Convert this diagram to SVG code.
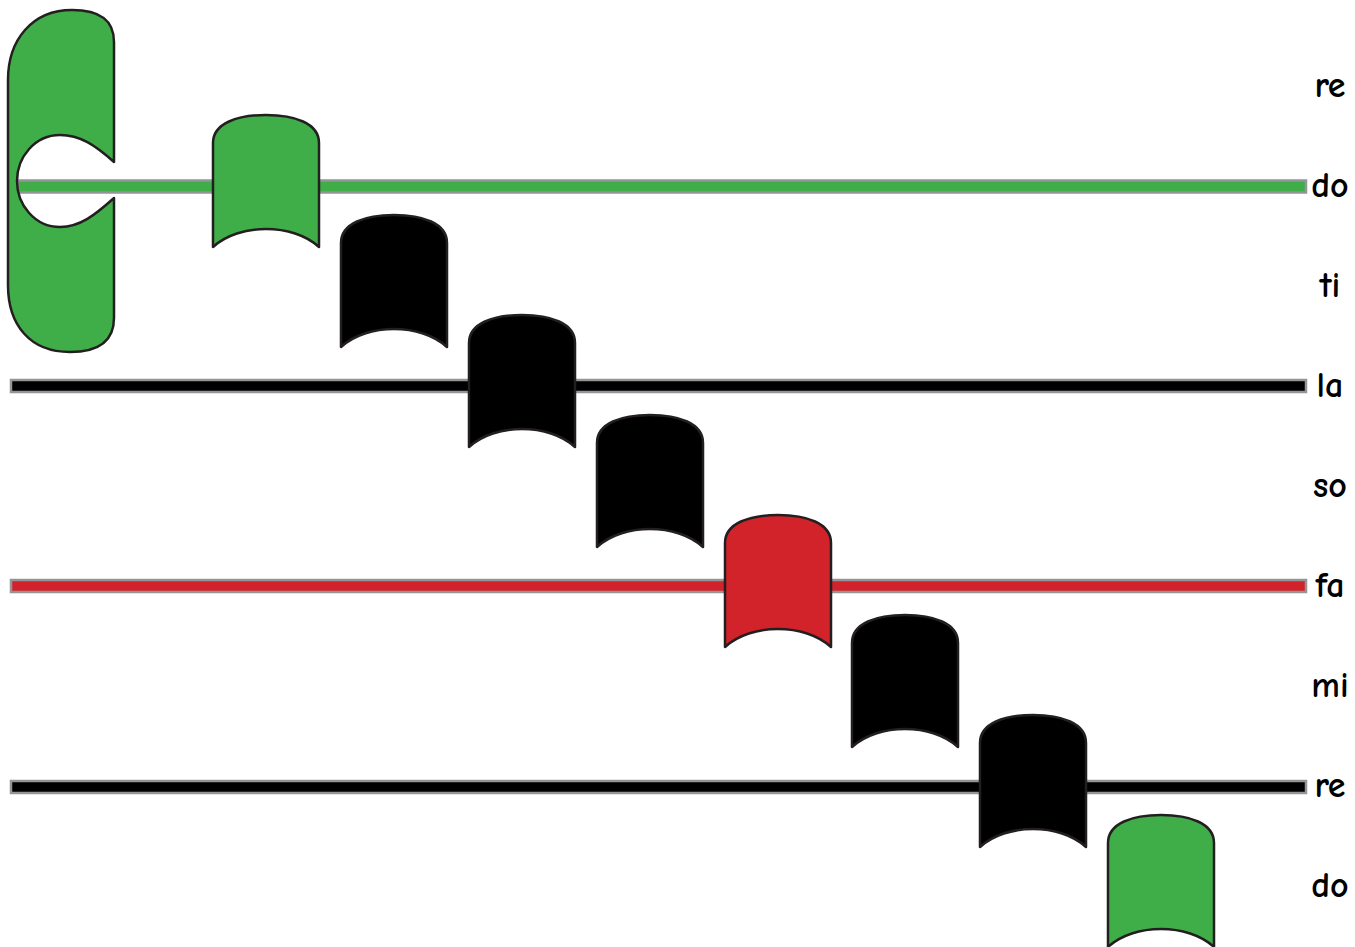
<svg xmlns="http://www.w3.org/2000/svg" xmlns:xlink="http://www.w3.org/1999/xlink" width="1355" height="947" viewBox="0 0 1355 947">
<style>
.ln{stroke:#939598;stroke-width:2.5}
.nt{stroke:#231f20;stroke-width:2.5;stroke-linejoin:round}
.g{fill:#3fae49}.k{fill:#000}.r{fill:#d2232a}
.lb{font-family:"Comic Neue","Liberation Sans",sans-serif;font-size:36px;font-weight:bold;fill:#000;text-anchor:middle}
</style>
<defs>
<path id="note" d="M0 132 L0 28 C0 8 25 0 53 0 C81 0 106 8 106 28 L106 132 C80 108 26 108 0 132 Z"/>
</defs>
<g id="connectors">
<rect class="ln g" x="18" y="180.5" width="1288" height="12"/>
<rect class="ln k" x="11" y="380" width="1295" height="12"/>
<rect class="ln r" x="11" y="580" width="1295" height="12"/>
<rect class="ln k" x="11" y="781" width="1295" height="12"/>
</g>
<g id="clef">
<path class="nt g" d="M114 162 L114 42 C114 20 100 10 72 10 C32 10 8 40 8 80 L8 285 C8 325 30 352 70 352 C100 352 114 340 114 318 L114 198 C95 215 80 227 60 227 C35 227 17 205 17 181 C17 157 35 135 60 135 C80 135 95 145 114 162 Z"/>
</g>
<g id="note1"><use href="#note" class="nt g" x="213" y="115"/></g>
<g id="note2"><use href="#note" class="nt k" x="341" y="215"/></g>
<g id="note3"><use href="#note" class="nt k" x="469" y="315"/></g>
<g id="note4"><use href="#note" class="nt k" x="597" y="415"/></g>
<g id="note5"><use href="#note" class="nt r" x="725" y="515"/></g>
<g id="note6"><use href="#note" class="nt k" x="852" y="615"/></g>
<g id="note7"><use href="#note" class="nt k" x="980" y="715"/></g>
<g id="note8"><use href="#note" class="nt g" x="1108" y="815"/></g>
<g id="labels">
<text class="lb" x="1330" y="97">re</text>
<text class="lb" x="1330" y="197">do</text>
<text class="lb" x="1330" y="297">ti</text>
<text class="lb" x="1330" y="397">la</text>
<text class="lb" x="1330" y="497">so</text>
<text class="lb" x="1330" y="597">fa</text>
<text class="lb" x="1330" y="697">mi</text>
<text class="lb" x="1330" y="797">re</text>
<text class="lb" x="1330" y="897">do</text>
</g>
</svg>
